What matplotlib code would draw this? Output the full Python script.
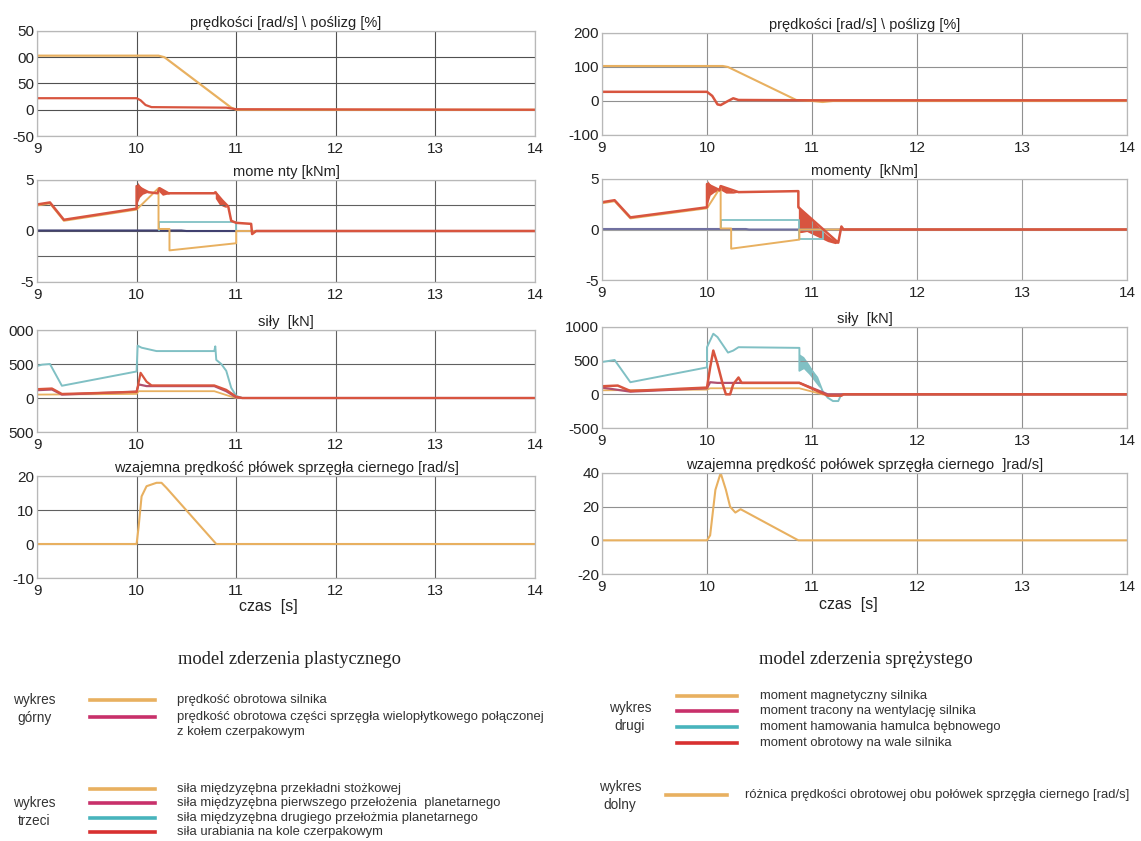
import matplotlib
matplotlib.use("Agg")
import matplotlib.pyplot as plt
from matplotlib.lines import Line2D

plt.rcParams['font.family'] = ['Liberation Sans', 'DejaVu Sans']

W, H = 1141, 841

# ---------------- colours ----------------
C_OR = '#e8b060'
C_MG = '#c8306a'
C_TL = '#80c0c4'
C_RD = '#d8553f'
C_LTL = '#48b4bc'
C_LRD = '#d83030'

XT = [9, 10, 11, 12, 13, 14]
XTL = ['9', '10', '11', '12', '13', '14']

# ================= LEFT: model zderzenia plastycznego =================
# plot 1: speeds
L1_or_t = [9, 10.22, 10.28, 10.95, 11.0, 14]
L1_or_v = [103, 103, 100, 4, 0, 0]
L1_rd_t = [9, 10.0, 10.04, 10.09, 10.15, 10.9, 11.0, 14]
L1_rd_v = [22, 22, 18, 9, 5, 4, 1, 0]
L1_ticks = [-50, 0, 50, 100, 150]
L1_labels = ['-50', '0', '50', '00', '50']

# plot 2: moments
L2_rd_t = [9, 9.13, 9.27, 10.0, 10.0, 10.12, 10.21, 10.23, 10.32, 10.78, 10.79, 10.86, 10.92, 10.95, 11.0, 11.15, 11.16, 11.2, 14]
L2_rd_v = [2.6, 2.8, 1.1, 2.2, 4.4, 3.8, 3.7, 4.2, 3.7, 3.7, 3.8, 3.0, 2.4, 1.0, 0.8, 0.7, -0.3, 0, 0]
L2_bandA_t = [10.0, 10.03, 10.06, 10.1, 10.12]
L2_bandA_lo = [2.6, 3.3, 3.6, 3.75, 3.8]
L2_bandA_hi = [4.9, 4.5, 4.2, 3.95, 3.85]
L2_bandB_t = [10.22, 10.26, 10.3, 10.33]
L2_bandB_lo = [3.9, 3.5, 3.6, 3.65]
L2_bandB_hi = [4.3, 4.0, 3.85, 3.75]
L2_bandC_t = [10.79, 10.83, 10.87, 10.9]
L2_bandC_lo = [3.2, 2.6, 2.4, 2.3]
L2_bandC_hi = [4.0, 3.4, 2.9, 2.6]
L2_or_t = [9, 9.13, 9.27, 10.0, 10.22, 10.22, 10.33, 10.33, 11.0, 11.0, 14]
L2_or_v = [2.5, 2.7, 1.0, 2.1, 4.2, 0.2, 0.2, -1.9, -1.2, 0.0, 0.0]
L2_tl_t = [10.22, 10.22, 11.0, 11.0]
L2_tl_v = [0.1, 0.9, 0.9, 0.1]
L2_mg_t = [9, 10.45, 10.5, 14]
L2_mg_v = [0.05, 0.05, 0.0, 0.0]

# plot 3: forces
L3_tl_t = [9, 9.05, 9.13, 9.25, 10.0, 10.01, 10.05, 10.2, 10.78, 10.79, 10.8, 10.85, 10.9, 10.95, 11.0, 11.06, 14]
L3_tl_v = [470, 490, 500, 180, 390, 770, 740, 690, 690, 760, 560, 500, 400, 150, 30, 0, 0]
L3_rd_t = [9, 9.15, 9.25, 10.0, 10.01, 10.04, 10.1, 10.15, 10.78, 10.9, 11.0, 11.06, 14]
L3_rd_v = [130, 140, 60, 90, 150, 370, 240, 185, 185, 120, 20, 0, 0]
L3_mg_t = [9, 9.15, 9.25, 10.0, 10.02, 10.1, 10.78, 10.9, 11.0, 11.06, 14]
L3_mg_v = [115, 125, 50, 95, 200, 175, 175, 100, 10, 0, 0]
L3_or_t = [9, 10.0, 10.02, 10.78, 10.95, 11.0, 14]
L3_or_v = [50, 60, 100, 100, 20, 0, 0]
L3_ticks = [-500, 0, 500, 1000]
L3_labels = ['500', '0', '500', '000']

# plot 4: relative clutch speed
L4_t = [9, 10.0, 10.02, 10.05, 10.1, 10.2, 10.25, 10.3, 10.8, 14]
L4_v = [0, 0, 5, 14, 17, 18, 18, 16.5, 0, 0]

# ================= RIGHT: model zderzenia sprezystego =================
R1_or_t = [9, 10.15, 10.2, 10.85, 11.0, 11.1, 11.2, 14]
R1_or_v = [103, 103, 100, 3, 0, -3, 0, 0]
R1_rd_t = [9, 10.0, 10.05, 10.1, 10.13, 10.2, 10.25, 10.3, 11.0, 14]
R1_rd_v = [27, 27, 15, -10, -12, 0, 8, 3, 2, 2]

R2_rd_t = [9, 9.12, 9.27, 10.0, 10.0, 10.12, 10.13, 10.3, 10.87, 10.87, 11.25, 11.28, 11.3, 14]
R2_rd_v = [2.7, 2.9, 1.2, 2.2, 4.5, 3.9, 4.3, 3.7, 3.8, 2.2, -1.3, 0.3, 0, 0]
R2_band_t = [10.0, 10.03, 10.07, 10.12, 10.13, 10.18, 10.25, 10.3]
R2_band_lo = [2.4, 3.4, 3.7, 3.8, 3.9, 3.6, 3.6, 3.7]
R2_band_hi = [4.9, 4.5, 4.1, 3.9, 4.3, 4.1, 3.8, 3.8]
R2_band2_t = [10.87, 10.9, 10.95, 11.05, 11.15, 11.22, 11.25]
R2_band2_lo = [-0.3, -0.3, -0.2, -0.7, -1.2, -1.4, -1.3]
R2_band2_hi = [2.4, 2.0, 1.5, 0.4, -0.6, -1.1, -1.2]
R2_or_t = [9, 9.12, 9.27, 10.0, 10.13, 10.13, 10.23, 10.23, 10.88, 10.88, 14]
R2_or_v = [2.6, 2.8, 1.1, 2.1, 4.2, 0.1, 0.1, -1.9, -1.0, 0.0, 0.0]
R2_tl_t = [10.13, 10.13, 10.88, 10.88, 11.1, 11.1]
R2_tl_v = [0.1, 0.9, 0.9, -0.9, -0.9, 0.0]
R2_mg_t = [9, 10.37, 10.4, 14]
R2_mg_v = [0.05, 0.05, 0.0, 0.0]

R3_tl_t = [9, 9.12, 9.27, 10.0, 10.0, 10.06, 10.1, 10.2, 10.25, 10.3, 10.88, 10.88, 10.95, 11.05, 11.1, 11.15, 11.2, 11.25, 11.28, 14]
R3_tl_v = [480, 510, 180, 400, 700, 900, 850, 620, 650, 700, 690, 350, 450, 250, 50, -50, -100, -100, 0, 0]
R3_band_t = [10.88, 10.92, 10.97, 11.02, 11.07]
R3_band_lo = [350, 380, 300, 200, 100]
R3_band_hi = [600, 560, 450, 320, 150]
R3_rd_t = [9, 9.15, 9.27, 10.0, 10.03, 10.06, 10.1, 10.15, 10.18, 10.22, 10.25, 10.3, 10.33, 10.88, 11.15, 11.28, 11.3, 14]
R3_rd_v = [120, 130, 50, 100, 400, 650, 450, 150, 0, 0, 150, 250, 170, 170, -20, -20, 0, 0]
R3_mg_t = [9, 9.27, 10.0, 10.03, 10.1, 10.88, 11.15, 14]
R3_mg_v = [100, 40, 90, 180, 170, 170, 0, 0]
R3_or_t = [9, 10.0, 10.03, 10.88, 11.1, 14]
R3_or_v = [60, 70, 90, 90, 0, 0]

R4_t = [9, 10.0, 10.03, 10.08, 10.13, 10.18, 10.22, 10.27, 10.32, 10.87, 14]
R4_v = [0, 0, 3, 30, 40, 30, 20, 16.5, 18.5, 0, 0]

TITLES_L = ['prędkości [rad/s] \\ poślizg [%]', 'mome nty [kNm]', 'siły  [kN]',
            'wzajemna prędkość płówek sprzęgła ciernego [rad/s]']
TITLES_R = ['prędkości [rad/s] \\ poślizg [%]', 'momenty  [kNm]', 'siły  [kN]',
            'wzajemna prędkość połówek sprzęgła ciernego  ]rad/s]']

fig = plt.figure(figsize=(W / 100, H / 100), dpi=100)


def ax_px(l, t, r, b):
    return fig.add_axes([l / W, 1 - b / H, (r - l) / W, (b - t) / H])


def style(ax, ylim, yticks, ylabels, title, grid_c):
    ax.set_xlim(9, 14)
    ax.set_ylim(*ylim)
    ax.set_xticks(XT)
    ax.set_xticklabels(XTL)
    ax.set_yticks(yticks)
    ax.set_yticklabels(ylabels)
    ax.tick_params(length=0, labelsize=11, colors='#222222')
    ax.tick_params(axis='x', pad=4)
    ax.tick_params(axis='y', pad=2)
    ax.grid(True, color=grid_c, lw=0.8)
    for s in ax.spines.values():
        s.set_color('#b8b8b8')
        s.set_linewidth(0.9)
    ax.set_title(title, fontsize=10.5, pad=3, color='#222222')


LX = (37, 535)
RX = (602, 1127)
LROWS = [(31, 136), (180, 282), (330, 432), (476, 578)]
RROWS = [(33, 135), (179, 280), (327, 428), (473, 574)]

# ---- left column ----
a = ax_px(LX[0], LROWS[0][0], LX[1], LROWS[0][1])
style(a, (-50, 150), L1_ticks, L1_labels, TITLES_L[0], '#505050')
a.plot(L1_or_t, L1_or_v, color=C_OR, lw=1.6)
a.plot(L1_rd_t, L1_rd_v, color=C_RD, lw=1.6)

a = ax_px(LX[0], LROWS[1][0], LX[1], LROWS[1][1])
style(a, (-5, 5), [-5, -2.5, 0, 2.5, 5], ['-5', '', '0', '', '5'], TITLES_L[1], '#606060')
a.plot(L2_mg_t, L2_mg_v, color='#404070', lw=1.5)
a.plot(L2_tl_t, L2_tl_v, color=C_TL, lw=1.3)
a.plot(L2_or_t, L2_or_v, color=C_OR, lw=1.4)
a.fill_between(L2_bandA_t, L2_bandA_lo, L2_bandA_hi, color=C_RD, lw=0)
a.fill_between(L2_bandB_t, L2_bandB_lo, L2_bandB_hi, color=C_RD, lw=0)
a.fill_between(L2_bandC_t, L2_bandC_lo, L2_bandC_hi, color=C_RD, lw=0)
a.plot(L2_rd_t, L2_rd_v, color=C_RD, lw=1.8)

a = ax_px(LX[0], LROWS[2][0], LX[1], LROWS[2][1])
style(a, (-500, 1000), L3_ticks, L3_labels, TITLES_L[2], '#606060')
a.plot(L3_or_t, L3_or_v, color=C_OR, lw=1.3)
a.plot(L3_tl_t, L3_tl_v, color=C_TL, lw=1.4)
a.plot(L3_mg_t, L3_mg_v, color='#b05070', lw=1.6)
a.plot(L3_rd_t, L3_rd_v, color=C_RD, lw=1.6)

a = ax_px(LX[0], LROWS[3][0], LX[1], LROWS[3][1])
style(a, (-10, 20), [-10, 0, 10, 20], ['-10', '0', '10', '20'], TITLES_L[3], '#606060')
a.plot(L4_t, L4_v, color=C_OR, lw=1.5)

# ---- right column ----
a = ax_px(RX[0], RROWS[0][0], RX[1], RROWS[0][1])
style(a, (-100, 200), [-100, 0, 100, 200], ['-100', '0', '100', '200'], TITLES_R[0], '#909090')
a.plot(R1_or_t, R1_or_v, color=C_OR, lw=1.5)
a.plot(R1_rd_t, R1_rd_v, color=C_RD, lw=1.8)

a = ax_px(RX[0], RROWS[1][0], RX[1], RROWS[1][1])
style(a, (-5, 5), [-5, 0, 5], ['-5', '0', '5'], TITLES_R[1], '#a0a0a0')
a.plot(R2_mg_t, R2_mg_v, color='#7070a0', lw=1.5)
a.plot(R2_tl_t, R2_tl_v, color=C_TL, lw=1.3)
a.plot(R2_or_t, R2_or_v, color=C_OR, lw=1.4)
a.fill_between(R2_band_t, R2_band_lo, R2_band_hi, color=C_RD, lw=0)
a.fill_between(R2_band2_t, R2_band2_lo, R2_band2_hi, color=C_RD, lw=0)
a.plot(R2_rd_t, R2_rd_v, color=C_RD, lw=1.8)

a = ax_px(RX[0], RROWS[2][0], RX[1], RROWS[2][1])
style(a, (-500, 1000), [-500, 0, 500, 1000], ['-500', '0', '500', '1000'], TITLES_R[2], '#909090')
a.plot(R3_or_t, R3_or_v, color=C_OR, lw=1.3)
a.fill_between(R3_band_t, R3_band_lo, R3_band_hi, color=C_TL, lw=0)
a.plot(R3_tl_t, R3_tl_v, color=C_TL, lw=1.4)
a.plot(R3_mg_t, R3_mg_v, color='#b05070', lw=1.6)
a.plot(R3_rd_t, R3_rd_v, color=C_RD, lw=1.8)

a = ax_px(RX[0], RROWS[3][0], RX[1], RROWS[3][1])
style(a, (-20, 40), [-20, 0, 20, 40], ['-20', '0', '20', '40'], TITLES_R[3], '#909090')
a.plot(R4_t, R4_v, color=C_OR, lw=1.5)


def fx(x):
    return x / W


def fy(y):
    return 1 - y / H


fig.text(fx(268), fy(606), 'czas  [s]', fontsize=11.5, ha='center', va='center', color='#222222')
fig.text(fx(848), fy(604), 'czas  [s]', fontsize=11.5, ha='center', va='center', color='#222222')

# ================= legend panels =================
LEG_L1_colors = [C_OR, C_MG]
LEG_L1_texts = ['prędkość obrotowa silnika',
                'prędkość obrotowa części sprzęgła wielopłytkowego połączonej\nz kołem czerpakowym']
LEG_L3_colors = [C_OR, C_MG, C_LTL, C_LRD]
LEG_L3_texts = ['siła międzyzębna przekładni stożkowej',
                'siła międzyzębna pierwszego przełożenia  planetarnego',
                'siła międzyzębna drugiego przełożmia planetarnego',
                'siła urabiania na kole czerpakowym']
LEG_R2_colors = [C_OR, C_MG, C_LTL, C_LRD]
LEG_R2_texts = ['moment magnetyczny silnika',
                'moment tracony na wentylację silnika',
                'moment hamowania hamulca bębnowego',
                'moment obrotowy na wale silnika']
LEG_R4_colors = [C_OR]
LEG_R4_texts = ['różnica prędkości obrotowej obu połówek sprzęgła ciernego [rad/s]']


def legend_block(x0, x1, xt, ys, colors, texts, fs):
    for y, c, t in zip(ys, colors, texts):
        fig.add_artist(Line2D([fx(x0), fx(x1)], [fy(y), fy(y)], color=c, lw=2.6,
                              transform=fig.transFigure))
        lines = t.split('\n')
        for k, ln in enumerate(lines):
            fig.text(fx(xt), fy(y + k * 15), ln, fontsize=fs, va='center', ha='left',
                     color='#333333')


fig.text(fx(290), fy(660), 'model zderzenia plastycznego', family='Liberation Serif',
         fontsize=13.3, ha='center', va='center', color='#222222')
fig.text(fx(866), fy(660), 'model zderzenia sprężystego', family='Liberation Serif',
         fontsize=13.3, ha='center', va='center', color='#222222')

fig.text(fx(34), fy(709), 'wykres\ngórny', fontsize=9.8, ha='center', va='center',
         color='#333333', linespacing=1.3)
fig.text(fx(34), fy(812), 'wykres\ntrzeci', fontsize=9.8, ha='center', va='center',
         color='#333333', linespacing=1.3)
fig.text(fx(630), fy(717), 'wykres\ndrugi', fontsize=9.8, ha='center', va='center',
         color='#333333', linespacing=1.3)
fig.text(fx(620), fy(796), 'wykres\ndolny', fontsize=9.8, ha='center', va='center',
         color='#333333', linespacing=1.3)

legend_block(90, 155, 177, [700, 717], LEG_L1_colors, LEG_L1_texts, 9.4)
legend_block(90, 155, 177, [789, 803, 818, 832], LEG_L3_colors, LEG_L3_texts, 9.4)
legend_block(677, 737, 760, [696, 711, 727, 743], LEG_R2_colors, LEG_R2_texts, 9.4)
legend_block(666, 727, 745, [795], LEG_R4_colors, LEG_R4_texts, 9.4)

fig.savefig('out.png', dpi=100)
